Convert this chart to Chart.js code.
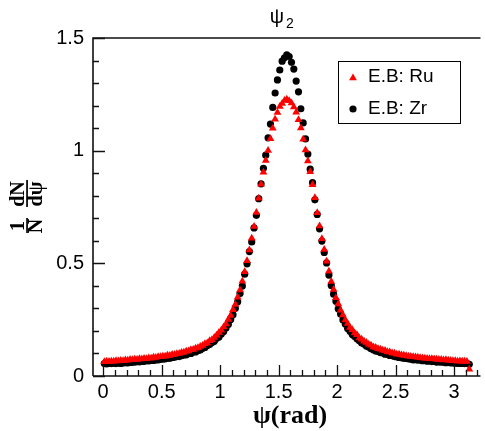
<!DOCTYPE html>
<html>
<head>
<meta charset="utf-8">
<script src="https://cdn.jsdelivr.net/npm/chart.js@4.4.1/dist/chart.umd.min.js"></script>
<style>
  html, body { margin: 0; padding: 0; background: #fff; }
</style>
</head>
<body>
<canvas id="c" width="485" height="431"></canvas>
<script>
// bin centres of psi (rad)
const psiBins = [
  0.01,0.03,0.05,0.07,0.09,0.11,0.13,0.15,0.17,0.19,
  0.21,0.23,0.25,0.27,0.29,0.31,0.33,0.35,0.37,0.39,
  0.41,0.43,0.45,0.47,0.49,0.51,0.53,0.55,0.57,0.59,
  0.61,0.63,0.65,0.67,0.69,0.71,0.73,0.75,0.77,0.79,
  0.81,0.83,0.85,0.87,0.89,0.91,0.93,0.95,0.97,0.99,
  1.01,1.03,1.05,1.07,1.09,1.11,1.13,1.15,1.17,1.19,
  1.21,1.23,1.25,1.27,1.29,1.31,1.33,1.35,1.37,1.39,
  1.41,1.43,1.45,1.47,1.49,1.51,1.53,1.55,1.57,1.59,
  1.61,1.63,1.65,1.67,1.69,1.71,1.73,1.75,1.77,1.79,
  1.81,1.83,1.85,1.87,1.89,1.91,1.93,1.95,1.97,1.99,
  2.01,2.03,2.05,2.07,2.09,2.11,2.13,2.15,2.17,2.19,
  2.21,2.23,2.25,2.27,2.29,2.31,2.33,2.35,2.37,2.39,
  2.41,2.43,2.45,2.47,2.49,2.51,2.53,2.55,2.57,2.59,
  2.61,2.63,2.65,2.67,2.69,2.71,2.73,2.75,2.77,2.79,
  2.81,2.83,2.85,2.87,2.89,2.91,2.93,2.95,2.97,2.99,
  3.01,3.03,3.05,3.07,3.09,3.11,3.13
];

// E.B: Ru  (1/N dN/dpsi)
const ruValues = [
  0.063,0.065,0.064,0.066,0.065,0.068,0.067,0.069,0.068,0.071,
  0.070,0.073,0.072,0.074,0.073,0.076,0.075,0.078,0.077,0.080,
  0.079,0.083,0.082,0.085,0.085,0.088,0.088,0.092,0.091,0.095,
  0.095,0.099,0.100,0.104,0.105,0.110,0.111,0.116,0.118,0.123,
  0.125,0.131,0.135,0.143,0.147,0.156,0.161,0.171,0.181,0.193,
  0.203,0.217,0.231,0.251,0.269,0.294,0.317,0.349,0.382,0.421,
  0.463,0.511,0.559,0.611,0.664,0.726,0.789,0.851,0.904,0.956,
  1.001,1.053,1.099,1.139,1.169,1.196,1.209,1.223,1.228,
  1.221,1.211,1.194,1.171,1.137,1.101,1.051,1.003,0.954,0.906,
  0.849,0.791,0.724,0.666,0.609,0.561,0.509,0.465,0.419,0.384,
  0.347,0.319,0.292,0.271,0.249,0.233,0.215,0.205,0.191,0.183,
  0.169,0.163,0.154,0.149,0.141,0.137,0.129,0.127,0.121,0.119,
  0.114,0.113,0.108,0.107,0.102,0.101,0.097,0.096,0.093,0.092,
  0.090,0.088,0.087,0.085,0.084,0.083,0.081,0.080,0.079,0.078,
  0.077,0.076,0.075,0.074,0.073,0.073,0.071,0.072,0.070,0.069,
  0.068,0.068,0.066,0.067,0.065,0.066,0.064,0.030
];

// E.B: Zr
const zrValues = [
  0.055,0.054,0.056,0.055,0.057,0.055,0.058,0.056,0.058,0.059,
  0.058,0.060,0.062,0.061,0.064,0.063,0.066,0.065,0.068,0.067,
  0.070,0.069,0.072,0.072,0.074,0.075,0.076,0.079,0.079,0.082,
  0.083,0.086,0.086,0.090,0.093,0.094,0.099,0.100,0.106,0.107,
  0.113,0.115,0.123,0.127,0.135,0.140,0.149,0.154,0.167,0.173,
  0.186,0.197,0.213,0.229,0.251,0.272,0.301,0.329,0.366,0.399,
  0.452,0.498,0.552,0.595,0.657,0.713,0.787,0.853,0.922,0.980,
  1.057,1.118,1.192,1.256,1.314,1.358,1.397,1.412,1.425,
  1.418,1.392,1.362,1.309,1.261,1.186,1.123,1.052,0.985,0.918,
  0.858,0.782,0.717,0.653,0.599,0.548,0.502,0.448,0.402,0.363,
  0.332,0.298,0.275,0.249,0.231,0.211,0.199,0.184,0.175,0.165,
  0.156,0.147,0.142,0.133,0.129,0.121,0.117,0.111,0.109,0.104,
  0.102,0.097,0.096,0.091,0.090,0.086,0.085,0.082,0.081,0.079,
  0.078,0.076,0.075,0.072,0.073,0.070,0.071,0.068,0.069,0.066,
  0.067,0.064,0.065,0.062,0.063,0.061,0.062,0.059,0.060,0.058,
  0.058,0.057,0.057,0.056,0.056,0.055,0.056,0.052
];

const seriesNames = ['E.B: Ru', 'E.B: Zr'];
const xTicks = [0, 0.5, 1, 1.5, 2, 2.5, 3];
const yTicks = [0, 0.5, 1, 1.5];

const toPoints = vals => psiBins.map((x, i) => ({ x: x, y: vals[i] }));

// ROOT-like frame, inward ticks, titles and legend
const rootStyle = {
  id: 'rootStyle',
  afterDraw(chart) {
    const ctx = chart.ctx;
    const a = chart.chartArea;
    const xs = chart.scales.x, ys = chart.scales.y;
    ctx.save();
    ctx.strokeStyle = '#111';
    ctx.lineWidth = 1.6;
    ctx.beginPath();
    ctx.moveTo(a.left, a.bottom); ctx.lineTo(a.left, a.top); ctx.lineTo(a.right, a.top);
    ctx.moveTo(a.left, a.bottom); ctx.lineTo(a.right, a.bottom);
    ctx.stroke();

    // ticks
    ctx.lineWidth = 1.3;
    ctx.beginPath();
    for (let i = 0; i <= 32; i++) {
      const v = i / 10;
      if (v < xs.min || v > xs.max) continue;
      const px = Math.round(xs.getPixelForValue(v)) + 0.5;
      const len = (i % 5 === 0) ? 11 : 6;
      ctx.moveTo(px, a.bottom); ctx.lineTo(px, a.bottom - len);
    }
    for (let i = 0; i <= 15; i++) {
      const py = Math.round(ys.getPixelForValue(i / 10)) + 0.5;
      const len = (i % 5 === 0) ? 12 : 6;
      ctx.moveTo(a.left, py); ctx.lineTo(a.left + len, py);
    }
    ctx.stroke();

    ctx.fillStyle = '#000';
    // title psi_2
    ctx.textAlign = 'center';
    ctx.textBaseline = 'middle';
    ctx.font = '20px "Liberation Sans", Arial, sans-serif';
    ctx.fillText('ψ', 277, 17);
    ctx.font = '14px "Liberation Sans", Arial, sans-serif';
    ctx.fillText('2', 290, 24);

    // x title
    ctx.font = 'bold 26px "Liberation Serif", "Times New Roman", serif';
    ctx.fillText('ψ(rad)', 290, 416);

    // y title: 1/N dN/dpsi, rotated
    ctx.save();
    ctx.translate(27, 206);
    ctx.rotate(-Math.PI / 2);
    ctx.font = 'bold 20px "Liberation Serif", "Times New Roman", serif';
    ctx.textBaseline = 'alphabetic';
    ctx.fillText('1', -20, -3);
    ctx.fillText('N', -20, 15);
    ctx.fillText('dN', 12, -3);
    ctx.fillText('dψ', 12, 15);
    ctx.fillRect(-27, -0.8, 15, 1.7);
    ctx.fillRect(-1, -0.8, 27, 1.7);
    ctx.restore();

    // legend
    ctx.fillStyle = '#fff';
    ctx.fillRect(338, 61, 123, 63);
    ctx.strokeStyle = '#000';
    ctx.lineWidth = 1;
    ctx.strokeRect(338.5, 61.5, 122, 62);
    ctx.fillStyle = '#ff0000';
    ctx.beginPath();
    ctx.moveTo(353, 73.5); ctx.lineTo(356.9, 80.3); ctx.lineTo(349.1, 80.3); ctx.closePath();
    ctx.fill();
    ctx.fillStyle = '#000';
    ctx.beginPath();
    ctx.arc(353, 109, 3.6, 0, Math.PI * 2);
    ctx.fill();
    ctx.textAlign = 'left';
    ctx.textBaseline = 'middle';
    ctx.font = '19px "Liberation Sans", Arial, sans-serif';
    ctx.fillText(seriesNames[0], 368, 77);
    ctx.fillText(seriesNames[1], 368, 109);
    ctx.restore();
  }
};

new Chart(document.getElementById('c'), {
  type: 'scatter',
  data: {
    datasets: [
      {
        label: seriesNames[0],
        data: toPoints(ruValues),
        pointStyle: 'triangle',
        pointRadius: 4.5,
        backgroundColor: '#ff0000',
        borderColor: '#ff0000',
        borderWidth: 0
      },
      {
        label: seriesNames[1],
        data: toPoints(zrValues),
        pointStyle: 'circle',
        pointRadius: 3.6,
        backgroundColor: '#000',
        borderColor: '#000',
        borderWidth: 0
      }
    ]
  },
  options: {
    responsive: false,
    animation: false,
    devicePixelRatio: 1,
    layout: { padding: { top: 38, right: 0, left: 0, bottom: 0 } },
    plugins: {
      legend: { display: false },
      tooltip: { enabled: false },
      title: { display: false }
    },
    scales: {
      x: {
        type: 'linear',
        min: -0.087,
        max: 3.226,
        grid: { display: false, drawTicks: false },
        border: { display: false },
        afterBuildTicks: s => { s.ticks = xTicks.map(v => ({ value: v })); },
        afterFit: s => { s.height = 55; },
        ticks: {
          padding: 4,
          color: '#000',
          font: { family: '"Liberation Sans", Arial, sans-serif', size: 20 },
          callback: v => String(v)
        }
      },
      y: {
        type: 'linear',
        min: 0,
        max: 1.5,
        grid: { display: false, drawTicks: false },
        border: { display: false },
        afterBuildTicks: s => { s.ticks = yTicks.map(v => ({ value: v })); },
        afterFit: s => { s.width = 93; },
        ticks: {
          padding: 9,
          color: '#000',
          font: { family: '"Liberation Sans", Arial, sans-serif', size: 20 },
          callback: v => String(v)
        }
      }
    }
  },
  plugins: [rootStyle]
});
</script>
</body>
</html>
